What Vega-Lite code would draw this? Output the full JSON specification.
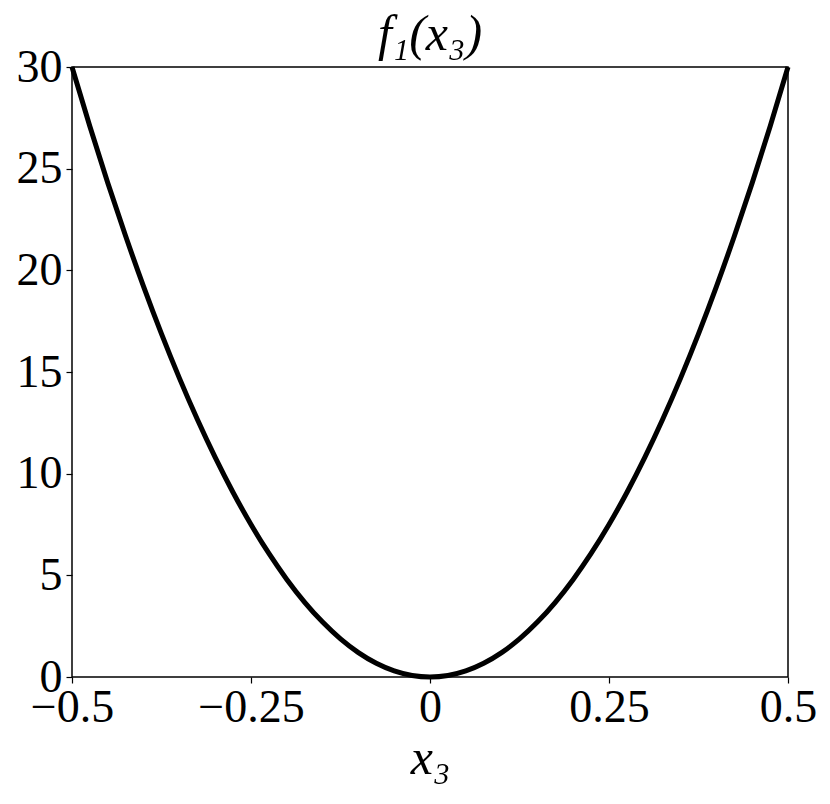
{
  "$schema": "https://vega.github.io/schema/vega-lite/v6.json",
  "width": 716,
  "height": 610,
  "autosize": {"type": "none"},
  "padding": {"left": 72, "top": 67, "right": 42, "bottom": 127},
  "background": "white",
  "config": {
    "view": {"stroke": "black", "strokeWidth": 1.5},
    "font": "Liberation Serif",
    "axis": {
      "grid": false,
      "domain": false,
      "labelFlush": false,
      "tickColor": "black",
      "tickSize": 6,
      "tickWidth": 1.2,
      "labelColor": "black",
      "labelFont": "Liberation Serif",
      "labelFontSize": 46,
      "titleColor": "black",
      "titleFont": "Liberation Serif",
      "titleFontSize": 50,
      "titleFontWeight": "normal"
    }
  },
  "title": {
    "text": "f₁(x₃)",
    "font": "Liberation Serif",
    "fontSize": 50,
    "fontStyle": "italic",
    "fontWeight": "normal",
    "color": "black",
    "offset": 4,
    "dy": 20
  },
  "data": {
    "values": [
      {"x": -0.5, "y": 30}, {"x": -0.475, "y": 27.075}, {"x": -0.45, "y": 24.3}, {"x": -0.425, "y": 21.675},
      {"x": -0.4, "y": 19.2}, {"x": -0.375, "y": 16.875}, {"x": -0.35, "y": 14.7}, {"x": -0.325, "y": 12.675},
      {"x": -0.3, "y": 10.8}, {"x": -0.275, "y": 9.075}, {"x": -0.25, "y": 7.5}, {"x": -0.225, "y": 6.075},
      {"x": -0.2, "y": 4.8}, {"x": -0.175, "y": 3.675}, {"x": -0.15, "y": 2.7}, {"x": -0.125, "y": 1.875},
      {"x": -0.1, "y": 1.2}, {"x": -0.075, "y": 0.675}, {"x": -0.05, "y": 0.3}, {"x": -0.025, "y": 0.075},
      {"x": 0, "y": 0},
      {"x": 0.025, "y": 0.075}, {"x": 0.05, "y": 0.3}, {"x": 0.075, "y": 0.675}, {"x": 0.1, "y": 1.2},
      {"x": 0.125, "y": 1.875}, {"x": 0.15, "y": 2.7}, {"x": 0.175, "y": 3.675}, {"x": 0.2, "y": 4.8},
      {"x": 0.225, "y": 6.075}, {"x": 0.25, "y": 7.5}, {"x": 0.275, "y": 9.075}, {"x": 0.3, "y": 10.8},
      {"x": 0.325, "y": 12.675}, {"x": 0.35, "y": 14.7}, {"x": 0.375, "y": 16.875}, {"x": 0.4, "y": 19.2},
      {"x": 0.425, "y": 21.675}, {"x": 0.45, "y": 24.3}, {"x": 0.475, "y": 27.075}, {"x": 0.5, "y": 30}
    ]
  },
  "mark": {"type": "line", "color": "black", "strokeWidth": 5, "interpolate": "monotone", "clip": false},
  "encoding": {
    "x": {
      "field": "x",
      "type": "quantitative",
      "scale": {"domain": [-0.5, 0.5], "nice": false, "zero": false},
      "axis": {
        "values": [-0.5, -0.25, 0, 0.25, 0.5],
        "labelExpr": "datum.value == 0 ? '0' : replace(format(datum.value, ''), '-', '−')",
        "labelPadding": 2,
        "title": "x₃",
        "titleFontStyle": "italic",
        "titlePadding": 3
      }
    },
    "y": {
      "field": "y",
      "type": "quantitative",
      "scale": {"domain": [0, 30], "nice": false},
      "axis": {
        "values": [0, 5, 10, 15, 20, 25, 30],
        "labelPadding": 4,
        "title": null
      }
    }
  }
}
